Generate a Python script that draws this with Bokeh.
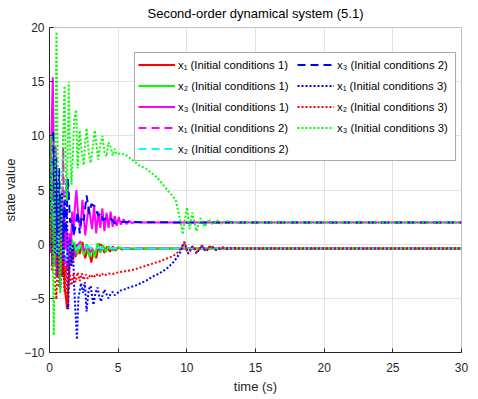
from bokeh.plotting import figure
from bokeh.models import Legend, LegendItem, FixedTicker
from bokeh.embed import file_html
from bokeh.resources import INLINE

# ---- data ----
title_text = "Second-order dynamical system (5.1)"
x_ticks = [0, 5, 10, 15, 20, 25, 30]
y_ticks = [-10, -5, 0, 5, 10, 15, 20]

# x1, initial conditions 1 (red solid)
t_x1_ic1 = [0, 0.1, 0.2, 0.3, 0.4, 0.5, 0.6, 0.7, 0.8, 0.9, 1.0, 1.1, 1.2, 1.28, 1.4, 1.5, 1.6, 1.7, 1.8,
            1.9, 2.0, 2.2, 2.4, 2.6, 2.8, 3.05, 3.2, 3.4, 3.6, 3.8, 4.0, 4.2, 4.4, 4.6, 4.8, 5.0, 5.3,
            5.6, 6.0, 6.5, 7.0, 10.0, 15.0, 30.0]
v_x1_ic1 = [0, 2.5, 0.5, -2.0, 1.5, -1.5, 0.8, -2.5, 0.5, -3.0, -1.0, -4.0, -5.0, -6.0, -3.0, -1.2, -0.5,
            -1.5, -0.3, -1.2, 0.0, -0.9, 0.2, -1.3, -0.3, -1.7, -0.6, -1.3, 0.0, -0.1, -0.8, -0.2, -0.7,
            -0.2, -0.6, -0.3, -0.5, -0.35, -0.45, -0.38, -0.4, -0.4, -0.4, -0.4]

# x2, initial conditions 1 (green solid)
t_x2_ic1 = [0, 0.1, 0.2, 0.3, 0.4, 0.5, 0.6, 0.7, 0.8, 0.9, 1.0, 1.1, 1.23, 1.3, 1.4, 1.5, 1.6, 1.7, 1.8,
            2.0, 2.2, 2.5, 2.7, 2.9, 3.1, 3.3, 3.5, 3.7, 3.9, 4.1, 4.3, 4.6, 5.0, 5.5, 6.0, 10.0, 15.0, 30.0]
v_x2_ic1 = [0, 3.0, -1.0, 2.0, -2.0, 1.0, -1.5, 0.5, -2.5, 0.0, -1.5, 0.4, 0.6, -0.5, 0.3, -0.8, 0.6,
            -0.3, 0.2, -1.0, 0.2, -1.0, 0.0, -1.2, -0.3, -1.2, 0.1, -0.8, -0.1, -0.7, -0.2, -0.6, -0.3,
            -0.45, -0.4, -0.4, -0.4, -0.4]

# x3, initial conditions 1 (magenta solid)
t_x3_ic1 = [0, 0.1, 0.24, 0.35, 0.45, 0.55, 0.65, 0.75, 0.85, 0.95, 1.05, 1.15, 1.25, 1.35, 1.45, 1.55,
            1.65, 1.75, 1.85, 1.96, 2.1, 2.25, 2.4, 2.6, 2.85, 3.1, 3.25, 3.4, 3.55, 3.7, 3.85, 4.0, 4.15,
            4.3, 4.45, 4.6, 4.75, 4.9, 5.05, 5.2, 5.4, 5.6, 5.8, 6.0, 6.3, 6.6, 10.0, 15.0, 30.0]
v_x3_ic1 = [0, 8.0, 15.4, 5.0, 9.0, 0.0, 6.0, -1.0, 4.0, -1.5, 3.0, -0.5, 1.5, -2.0, 1.0, 0.0, 3.0, 0.8,
            3.5, 5.0, 2.5, 1.4, 4.1, 0.8, 3.5, 1.4, 3.6, 1.0, 3.0, 1.5, 3.3, 1.2, 2.9, 1.5, 3.0, 1.6, 2.6,
            1.7, 2.5, 1.8, 2.3, 1.85, 2.15, 1.95, 2.05, 2.0, 2.0, 2.0, 2.0]

# x1, initial conditions 2 (magenta dashed)
t_x1_ic2 = [0, 0.1, 0.2, 0.3, 0.4, 0.5, 0.6, 0.7, 0.8, 0.9, 1.0, 1.1, 1.2, 1.3, 1.4, 1.5, 1.7, 1.9, 2.1,
            2.3, 2.5, 2.7, 3.0, 3.3, 3.6, 4.0, 10.0, 15.0, 30.0]
v_x1_ic2 = [0, -1.0, 4.0, 8.0, 2.0, -3.0, 3.0, -2.0, 2.0, -1.5, 9.0, -2.0, -1.0, -2.5, -1.0, -1.8, -0.5,
            -1.0, 0.0, 0.3, -0.6, -0.2, -0.7, -0.3, -0.5, -0.4, -0.4, -0.4, -0.4]

# x2, initial conditions 2 (cyan dashed)
t_x2_ic2 = [0, 0.1, 0.2, 0.3, 0.4, 0.5, 0.6, 0.7, 0.8, 0.9, 1.0, 1.1, 1.23, 1.35, 1.5, 1.7, 1.9, 2.2,
            2.5, 2.8, 3.2, 3.6, 4.0, 4.5, 5.0, 10.0, 15.0, 30.0]
v_x2_ic2 = [0, 2.0, -1.0, 3.0, 0.0, -1.0, 1.0, -0.5, 0.5, -1.0, -0.5, -1.2, -1.5, -0.8, -0.2, 0.0, -0.5,
            -0.1, -0.4, -0.2, -0.5, -0.3, -0.45, -0.35, -0.4, -0.4, -0.4, -0.4]

# x3, initial conditions 2 (blue dashed)
t_x3_ic2 = [0, 0.1, 0.27, 0.4, 0.5, 0.6, 0.7, 0.8, 0.9, 1.0, 1.1, 1.2, 1.35, 1.5, 1.65, 1.75, 1.9, 2.05,
            2.2, 2.35, 2.5, 2.7, 2.9, 3.05, 3.3, 3.55, 3.75, 3.9, 4.2, 4.5, 4.8, 5.2, 10.0, 15.0, 30.0]
v_x3_ic2 = [0, 5.0, 10.5, 3.0, 8.0, 1.0, 7.0, 2.0, 5.0, 0.5, 4.0, 1.0, 6.0, 2.0, 2.3, 0.8, 1.7, 3.0, 1.0,
            2.6, 2.2, 4.5, 2.8, 3.7, 3.5, 2.6, 2.9, 2.2, 2.5, 2.3, 1.9, 2.05, 2.0, 2.0, 2.0]

# x1, initial conditions 3 (blue dotted)
t_x1_ic3 = [0, 0.1, 0.2, 0.3, 0.4, 0.5, 0.6, 0.7, 0.8, 0.9, 1.0, 1.1, 1.25, 1.36, 1.5, 1.6, 1.7, 1.8,
            1.9, 2.0, 2.1, 2.3, 2.45, 2.57, 2.7, 2.85, 3.0, 3.1, 3.2, 3.35, 3.5, 3.62, 3.75, 3.87, 4.0,
            4.15, 4.3, 4.45, 4.6, 4.75, 4.9, 5.1, 5.4, 5.8, 6.3, 7.0, 7.5, 8.0, 8.5, 9.0, 9.3, 9.5, 9.7,
            9.83, 10.0, 10.1, 10.25, 10.4, 10.55, 10.7, 10.9, 11.1, 11.35, 11.55, 11.76, 11.95, 12.1,
            12.35, 12.6, 12.9, 13.3, 14.0, 15.0, 30.0]
v_x1_ic3 = [0, 6.0, -2.0, 9.0, -1.0, 5.0, -3.0, 4.0, -4.0, 2.0, -3.0, 3.0, 6.0, -6.0, 0.5, -2.0, 0.0,
            -4.0, -6.5, -8.8, -5.0, -3.6, -4.5, -3.5, -6.2, -4.2, -3.85, -4.8, -5.6, -4.5, -4.0, -4.8,
            -5.3, -4.7, -4.2, -4.6, -5.0, -4.6, -4.4, -4.7, -4.6, -4.3, -4.2, -4.0, -3.8, -3.4, -3.0,
            -2.7, -2.3, -1.7, -1.2, -0.8, -0.15, 0.2, -0.6, -0.9, -0.6, -0.2, -0.4, -0.85, -0.5, -0.1,
            -0.65, -0.45, -0.15, -0.35, -0.55, -0.45, -0.3, -0.45, -0.35, -0.4, -0.4, -0.4]

# x2, initial conditions 3 (red dotted)
t_x2_ic3 = [0, 0.1, 0.2, 0.3, 0.4, 0.5, 0.6, 0.7, 0.8, 0.9, 1.0, 1.1, 1.2, 1.3, 1.45, 1.6, 1.75, 1.9,
            2.05, 2.2, 2.35, 2.5, 2.65, 2.8, 3.0, 3.2, 3.4, 3.6, 3.8, 4.0, 4.3, 4.6, 5.0, 5.5, 6.0, 6.5,
            7.0, 7.5, 8.0, 8.5, 9.0, 9.3, 9.5, 9.7, 9.83, 10.0, 10.1, 10.25, 10.45, 10.7, 10.9, 11.1,
            11.35, 11.55, 11.76, 12.1, 12.4, 12.8, 13.3, 14.0, 15.0, 30.0]
v_x2_ic3 = [0, 2.6, -2.5, 1.5, -3.5, -5.1, -1.0, -4.0, 0.5, -3.0, -1.5, -4.5, -2.0, -5.5, -2.5, -3.8,
            -2.8, -3.5, -2.6, -3.4, -2.7, -3.3, -2.8, -3.2, -2.8, -3.1, -2.75, -3.0, -2.7, -2.9, -2.7,
            -2.75, -2.6, -2.5, -2.4, -2.2, -2.0, -1.8, -1.6, -1.35, -1.1, -0.8, -0.5, -0.1, 0.2, -0.5,
            -0.8, -0.5, -0.2, -0.75, -0.5, -0.1, -0.6, -0.3, -0.15, -0.5, -0.35, -0.3, -0.45, -0.4,
            -0.4, -0.4]

# x3, initial conditions 3 (green dotted)
t_x3_ic3 = [0, 0.1, 0.15, 0.22, 0.31, 0.4, 0.51, 0.6, 0.7, 0.78, 0.88, 0.98, 1.1, 1.2, 1.27, 1.4, 1.5,
            1.6, 1.7, 1.8, 1.94, 2.05, 2.2, 2.35, 2.5, 2.6, 2.7, 2.85, 3.0, 3.15, 3.3, 3.45, 3.55, 3.7,
            3.85, 4.0, 4.15, 4.3, 4.45, 4.6, 4.75, 4.9, 5.2, 5.6, 6.0, 6.5, 7.0, 7.5, 7.8, 8.2, 8.7,
            9.0, 9.2, 9.45, 9.6, 9.7, 9.85, 10.0, 10.2, 10.4, 10.7, 11.0, 11.3, 11.6, 11.9, 12.2, 12.5,
            12.85, 13.2, 13.6, 14.0, 15.0, 30.0]
v_x3_ic3 = [0, 4.0, 10.0, 2.0, -8.4, 6.0, 19.6, 8.0, -1.0, -4.5, 3.0, 9.5, 14.6, 6.0, 4.0, 15.0, 9.0,
            5.5, 8.0, 11.5, 12.4, 7.0, 10.5, 8.5, 7.3, 9.5, 10.7, 8.5, 7.5, 9.0, 10.5, 8.8, 7.8, 9.2,
            10.0, 8.5, 8.1, 9.4, 9.0, 8.2, 8.8, 8.3, 8.4, 8.2, 7.8, 7.3, 7.0, 6.5, 6.2, 5.6, 4.8, 4.4,
            4.0, 2.6, 1.6, 0.9, 2.2, 3.4, 1.4, 2.9, 1.2, 2.4, 1.6, 2.3, 1.8, 2.2, 1.9, 2.2, 1.95, 2.05,
            2.0, 2.0, 2.0]

series = [
    ("x\u2081 (Initial conditions 1)", t_x1_ic1, v_x1_ic1, "#FF0000", "solid"),
    ("x\u2082 (Initial conditions 1)", t_x2_ic1, v_x2_ic1, "#00FF00", "solid"),
    ("x\u2083 (Initial conditions 1)", t_x3_ic1, v_x3_ic1, "#FF00FF", "solid"),
    ("x\u2081 (Initial conditions 2)", t_x1_ic2, v_x1_ic2, "#FF00FF", "8 5"),
    ("x\u2082 (Initial conditions 2)", t_x2_ic2, v_x2_ic2, "#00FFFF", "8 5"),
    ("x\u2083 (Initial conditions 2)", t_x3_ic2, v_x3_ic2, "#0000FF", "8 5"),
    ("x\u2081 (Initial conditions 3)", t_x1_ic3, v_x1_ic3, "#0000FF", "2 2"),
    ("x\u2082 (Initial conditions 3)", t_x2_ic3, v_x2_ic3, "#FF0000", "2 2"),
    ("x\u2083 (Initial conditions 3)", t_x3_ic3, v_x3_ic3, "#00FF00", "2 2"),
]

FONT = "Liberation Sans"
AX = "#262626"

p = figure(width=478, height=399, output_backend="svg", toolbar_location=None,
           x_range=(0, 30), y_range=(-10, 20),
           min_border_left=48, min_border_right=17, min_border_top=27, min_border_bottom=47,
           title=title_text)

p.title.align = "center"
p.title.vertical_align = "top"
p.title.text_font = FONT
p.title.text_font_size = "13px"
p.title.text_font_style = "normal"
p.title.text_color = "#000000"
p.title.standoff = 10

p.background_fill_color = "white"
p.border_fill_color = "white"
p.outline_line_color = "#BFBFBF"

for ax in (p.xaxis[0], p.yaxis[0]):
    ax.axis_line_color = AX
    ax.major_tick_line_color = AX
    ax.major_tick_in = 4
    ax.major_tick_out = 0
    ax.minor_tick_line_color = None
    ax.major_label_text_font = FONT
    ax.major_label_text_font_size = "12px"
    ax.major_label_text_color = AX
    ax.axis_label_text_font = FONT
    ax.axis_label_text_font_size = "13px"
    ax.axis_label_text_font_style = "normal"
    ax.axis_label_text_color = AX

p.xaxis[0].ticker = FixedTicker(ticks=x_ticks)
p.yaxis[0].ticker = FixedTicker(ticks=y_ticks)
p.xaxis[0].axis_label = "time (s)"
p.yaxis[0].axis_label = "state value"
p.xaxis[0].major_label_standoff = 10
p.xaxis[0].axis_label_standoff = 4
p.yaxis[0].major_label_standoff = 5
p.yaxis[0].axis_label_standoff = 3

p.xgrid.grid_line_color = "#E3E3E3"
p.ygrid.grid_line_color = "#E3E3E3"

items = []
for label, t, v, color, dash in series:
    r = p.line(t, v, line_color=color, line_width=2, line_dash=dash)
    items.append(LegendItem(label=label, renderers=[r]))

legend = Legend(items=items, location=(85, 191), orientation="vertical", nrows=5)
legend.label_text_font = FONT
legend.label_text_font_size = "11.3px"
legend.label_text_color = "#000000"
legend.glyph_width = 37
legend.glyph_height = 17
legend.label_height = 17
legend.label_width = 115
legend.label_standoff = 3
legend.spacing = 4
legend.padding = 3
legend.margin = 0
legend.border_line_color = "#555555"
legend.border_line_width = 1
legend.background_fill_color = "white"
legend.background_fill_alpha = 1.0
p.add_layout(legend)

open("out.html", "w").write(file_html(p, INLINE))
